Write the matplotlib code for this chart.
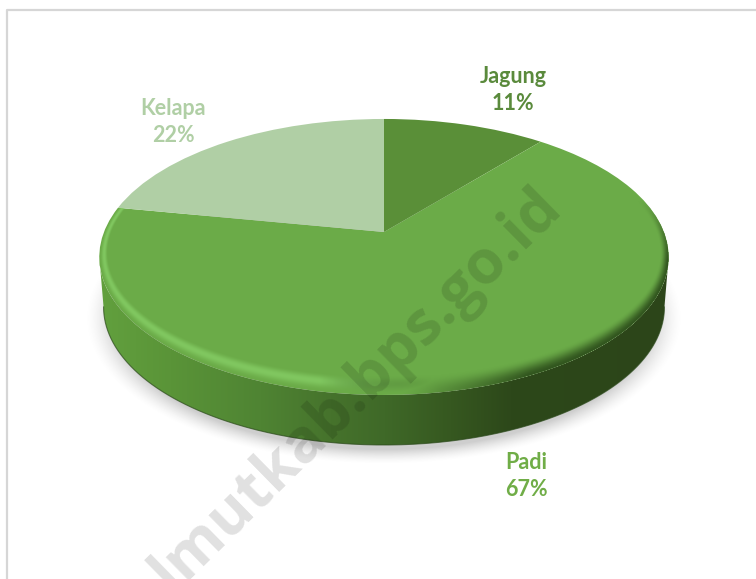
import numpy as np
import matplotlib
matplotlib.use("Agg")
import matplotlib.pyplot as plt
from matplotlib.patches import Polygon
from matplotlib.transforms import Transform

categories = ["Jagung", "Padi", "Kelapa"]
values = [11, 67, 22]
face_colors = ["#5a8f38", "#6bab48", "#b0cfa5"]
label_colors = ["#5a8a3c", "#70ad47", "#b0cfa5"]
watermark = "lmutkab.bps.go.id"

W, H = 756, 579
CX, CY = 384, 232  # where the slices meet
K = 0.181  # perspective strength
A = 133.5
C = 280
DEPTH = 50


def project(u, v):
    d = 1 + K * v
    return CX + C * u / d, CY - A * v / d


class Perspective(Transform):
    # tilted disc, unit pie coordinates to pixels
    input_dims = 2
    output_dims = 2

    def transform_non_affine(self, values):
        values = np.asarray(values)
        x, y = project(values[:, 0], values[:, 1])
        return np.column_stack([x, y])


fig = plt.figure(figsize=(W / 100, H / 100), dpi=100)
ax = fig.add_axes([0, 0, 1, 1])

xx, yy = np.meshgrid(np.arange(W) + 0.5, np.arange(H) + 0.5)
extent = (0, W, H, 0)

# shadow under the pie
rr = np.sqrt(((xx - CX) / 298) ** 2 + ((yy - 318) / 146) ** 2)
shadow = np.zeros((H, W, 4))
shadow[..., :3] = 0.62
shadow[..., 3] = np.clip((1.0 - rr) / 0.1, 0, 1) ** 1.5 * 0.5
ax.imshow(shadow, extent=extent, aspect="auto", zorder=1)

# side wall, gradient runs left to right
stops_x = [100, 170, 260, 330, 384, 450, 510, 669]
stops_r = [98, 90, 79, 70, 63, 54, 45, 44]
stops_g = [160, 148, 132, 115, 105, 88, 72, 69]
stops_b = [62, 56, 51, 44, 40, 32, 26, 25]
wall = np.zeros((1, W, 3))
wall[0, :, 0] = np.interp(np.arange(W), stops_x, stops_r) / 255
wall[0, :, 1] = np.interp(np.arange(W), stops_x, stops_g) / 255
wall[0, :, 2] = np.interp(np.arange(W), stops_x, stops_b) / 255
wall_img = ax.imshow(wall, extent=extent, aspect="auto", zorder=2)

phi = np.linspace(np.pi + np.arcsin(K), 2 * np.pi - np.arcsin(K), 300)
top_x, top_y = project(np.cos(phi), np.sin(phi))
bot_x = CX + (top_x - CX) * 0.985
bot_y = top_y + DEPTH
outline = np.column_stack([np.r_[top_x, bot_x[::-1]], np.r_[top_y, bot_y[::-1]]])
wall_clip = Polygon(outline, closed=True, transform=ax.transData)
wall_img.set_clip_path(wall_clip)
ax.plot(bot_x, bot_y, color="#2c4a1c", lw=0.8, alpha=0.7, zorder=2.5)

# top face
wedges, _ = ax.pie(values, colors=face_colors, startangle=90, counterclock=False,
                   radius=1, center=(0, 0), wedgeprops={"linewidth": 0, "zorder": 3})
for w in wedges:
    w.set_transform(Perspective() + ax.transData)
    w.set_zorder(3)

# bevel along the rim of the big slice
v_img = (CY - yy) / (A - K * (CY - yy))
u_img = (xx - CX) * (1 + K * v_img) / C
r_img = np.sqrt(u_img ** 2 + v_img ** 2)
band = 0.028 + 0.072 * (v_img / np.maximum(r_img, 1e-6)) ** 2
t = np.clip(1 - (1 - r_img) / band, 0, 1)
t = t * t * (3 - 2 * t)
light = np.clip((440 - xx) / 120, 0, 1)
dark = np.clip((xx - 400) / 130, 0, 1) * np.clip((0.25 - v_img) / 0.45, 0, 1)
bevel = np.zeros((H, W, 4))
for i, (lo, hi) in enumerate(zip((132 / 255, 204 / 255, 100 / 255), (46 / 255, 80 / 255, 28 / 255))):
    bevel[..., i] = lo * light + hi * (1 - light)
bevel[..., 3] = np.maximum(light * np.sin(np.pi * t ** 0.8) ** 1.2 * 0.85,
                           dark * t ** 1.1 * 0.95)
bevel[..., 3] = np.where(r_img > 1, 0, bevel[..., 3])
bevel_img = ax.imshow(bevel, extent=extent, aspect="auto", zorder=4)
bevel_img.set_clip_path(wedges[1])

# frame, only top and left are in the picture
ax.plot([7, 7, W], [H, 9.5, 9.5], color="#d6d6d6", lw=1.6, zorder=1)

# watermark
ax.text(563, 209, watermark, rotation=44.5, rotation_mode="anchor", ha="right", va="baseline",
        fontsize=44, fontweight="bold", family="Open Sans", color="black", alpha=0.12, zorder=5)

# labels
label_pos = [(513, 90), (526, 476), (173, 122)]
for name, val, col, pos in zip(categories, values, label_colors, label_pos):
    ax.text(pos[0], pos[1], f"{name}\n{val}%", color=col, ha="center", va="center",
            fontsize=15.5, fontweight="bold", family="Lato", linespacing=1.4, zorder=6)

ax.set_aspect("auto")
ax.set_xlim(0, W)
ax.set_ylim(H, 0)
ax.axis("off")
fig.savefig("out.png", dpi=100)
